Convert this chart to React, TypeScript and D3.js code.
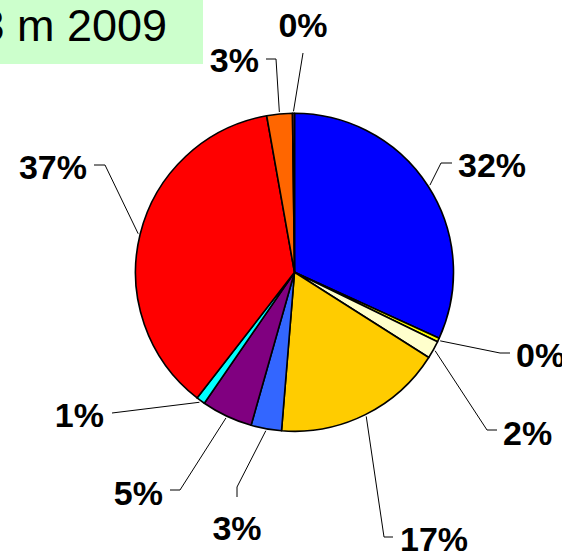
import React from "react";
import * as d3 from "d3";

const categories = ["A", "B", "C", "D", "E", "F", "G", "H", "I", "J"];
const values = [31.8, 0.4, 1.8, 17.3, 3.1, 5.2, 0.9, 36.7, 2.6, 0.2];
const colors = ["#0000FF", "#FFFF00", "#FFFFCC", "#FFCC00", "#3366FF", "#800080", "#00FFFF", "#FF0000", "#FF6600", "#993366"];
const titleText = "3 m 2009";

// label layout: elbow point, end of horizontal segment, text anchor & position
const labelLayout = [
  { elbow: [441, 163], end: [452, 163], tx: 458, ty: 177, anchor: "start" },
  { elbow: [500, 353], end: [510, 353], tx: 516, ty: 367, anchor: "start" },
  { elbow: [487, 430], end: [497, 430], tx: 503, ty: 445, anchor: "start" },
  { elbow: [384, 537], end: [393, 537], tx: 400, ty: 551, anchor: "start" },
  { elbow: [237, 487], end: [237, 497], tx: 237, ty: 540, anchor: "middle" },
  { elbow: [180, 490], end: [170, 490], tx: 163, ty: 505, anchor: "end" },
  { elbow: [112, 413], end: [112, 413], tx: 104, ty: 427, anchor: "end" },
  { elbow: [105, 165], end: [94, 165], tx: 87, ty: 179, anchor: "end" },
  { elbow: [276, 59], end: [266, 59], tx: 259, ty: 72, anchor: "end" },
  { elbow: [303, 53], end: [303, 53], tx: 303, ty: 37, anchor: "middle" },
];

const W = 562, H = 552;
const cx = 294.5, cy = 272.3, R = 159;

export default function App() {
  const pie = d3.pie<number>().sort(null).value((d) => d)(values);
  const arc = d3.arc<d3.PieArcDatum<number>>().innerRadius(0).outerRadius(R);
  const total = d3.sum(values);
  return (
    <svg width={W} height={H} style={{ position: "absolute", left: 0, top: 0 }}
      fontFamily="'Liberation Sans', Arial, sans-serif">
      <rect x={0} y={0} width={W} height={H} fill="#fff" />
      <rect x={0} y={0} width={203} height={64} fill="#CCFFCC" />
      <text x={167} y={41} fontSize={45} textAnchor="end" fill="#000">{titleText}</text>
      <g transform={`translate(${cx},${cy})`}>
        {pie.map((p, i) => (
          <path key={categories[i]} d={arc(p) || ""} fill={colors[i]} stroke="#000" strokeWidth={1.6} strokeLinejoin="round" />
        ))}
      </g>
      {pie.map((p, i) => {
        const mid = (p.startAngle + p.endAngle) / 2;
        const sx = cx + (R + 2) * Math.sin(mid);
        const sy = cy - (R + 2) * Math.cos(mid);
        const L = labelLayout[i];
        const pct = Math.round((values[i] / total) * 100);
        return (
          <g key={"l" + i}>
            <polyline points={`${sx},${sy} ${L.elbow[0]},${L.elbow[1]} ${L.end[0]},${L.end[1]}`}
              fill="none" stroke="#000" strokeWidth={1} />
            <text x={L.tx} y={L.ty} fontSize={34} fontWeight="bold" textAnchor={L.anchor as any} fill="#000">{pct + "%"}</text>
          </g>
        );
      })}
    </svg>
  );
}
